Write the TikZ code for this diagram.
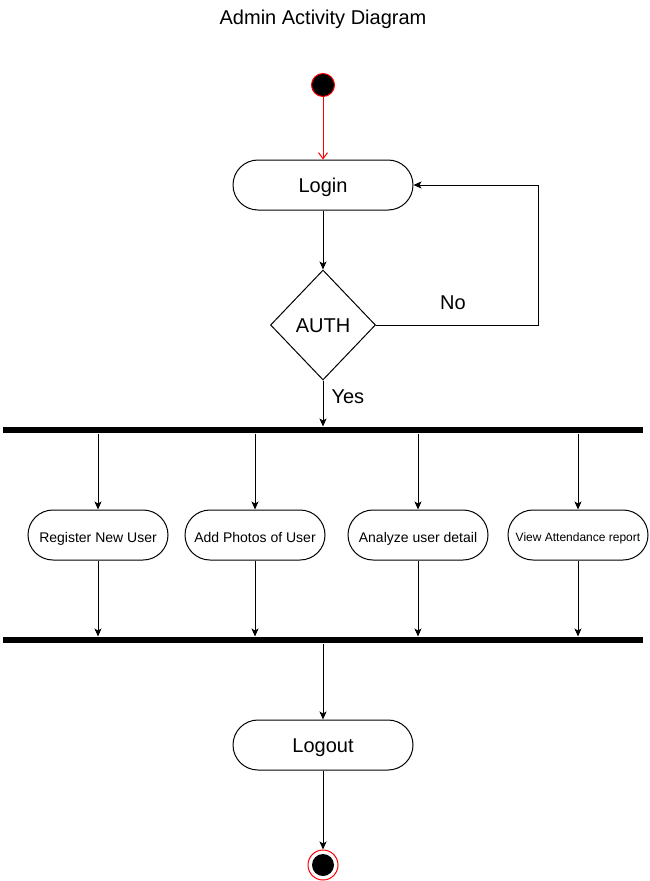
\documentclass[tikz,border=0pt]{standalone}
\usepackage{fontspec}
\setmainfont{Liberation Sans}
\usetikzlibrary{positioning, arrows.meta, shapes.geometric}

\begin{document}
\begin{tikzpicture}[x=1pt, y=-1pt, line width=1pt,
    lbl/.style={inner sep=0pt, text height=14.3pt, text depth=0pt, font=\fontsize{20}{24}\selectfont},
    act/.style={rectangle, rounded corners=25pt, draw=black, inner sep=0pt, minimum width=140pt, minimum height=50pt, text height=14pt, text depth=0pt, font=\fontsize{14}{16}\selectfont},
    big/.style={act, minimum width=180pt, text height=14.3pt, text depth=0pt, font=\fontsize{20}{24}\selectfont},
    bar/.style={rectangle, fill=black, inner sep=0pt, minimum width=640pt, minimum height=6pt},
    arr/.style={-{Stealth[length=8pt, width=7pt, inset=2pt]}}]
    \useasboundingbox (0, 0) rectangle (649, 881);

    \node[lbl] (title) at (323, 17.5) {Admin Activity Diagram};

    \node[circle, draw=red, fill=black, inner sep=0pt, minimum size=23pt] (start) at (323, 85) {};
    \node[big] (login) at (323, 185) {Login};
    \node[diamond, draw=black, inner sep=0pt, minimum width=105pt, minimum height=110pt, text height=14.3pt, text depth=0pt, font=\fontsize{20}{24}\selectfont] (auth) at (323, 325) {AUTH};
    \node[bar] (fork) at (323, 430) {};
    \node[act] (reg) at (98, 535) {Register New User};
    \node[act] (add) at (255, 535) {Add Photos of User};
    \node[act] (ana) at (418, 535) {Analyze user detail};
    \node[act, text height=12.6pt, font=\fontsize{12}{14}\selectfont] (view) at (578, 535) {View Attendance report};
    \node[bar] (join) at (323, 640) {};
    \node[big] (logout) at (323, 745) {Logout};
    \node[circle, draw=red, fill=white, inner sep=0pt, minimum size=30pt] (end) at (323, 865) {};
    \node[circle, fill=black, inner sep=0pt, minimum size=22pt] (endin) at (323, 865) {};

    \draw[red, -{Straight Barb[length=6pt, width=9pt]}] (start) -- (login);
    \draw[arr] (login) -- (auth);
    \draw[arr] (auth.east) -- node[lbl, above=15pt, xshift=-4pt] {No} ++(162, 0) |- (login.east);
    \draw[arr] (auth.south) -- node[lbl, pos=0.34, right=8pt] {Yes} (fork.north);
    \draw[arr] (reg |- fork.south) -- (reg.north);
    \draw[arr] (add |- fork.south) -- (add.north);
    \draw[arr] (ana |- fork.south) -- (ana.north);
    \draw[arr] (view |- fork.south) -- (view.north);
    \draw[arr] (reg.south) -- (reg |- join.north);
    \draw[arr] (add.south) -- (add |- join.north);
    \draw[arr] (ana.south) -- (ana |- join.north);
    \draw[arr] (view.south) -- (view |- join.north);
    \draw[arr] (join.south) -- (logout.north);
    \draw[arr] (logout.south) -- (end.north);
\end{tikzpicture}
\end{document}
